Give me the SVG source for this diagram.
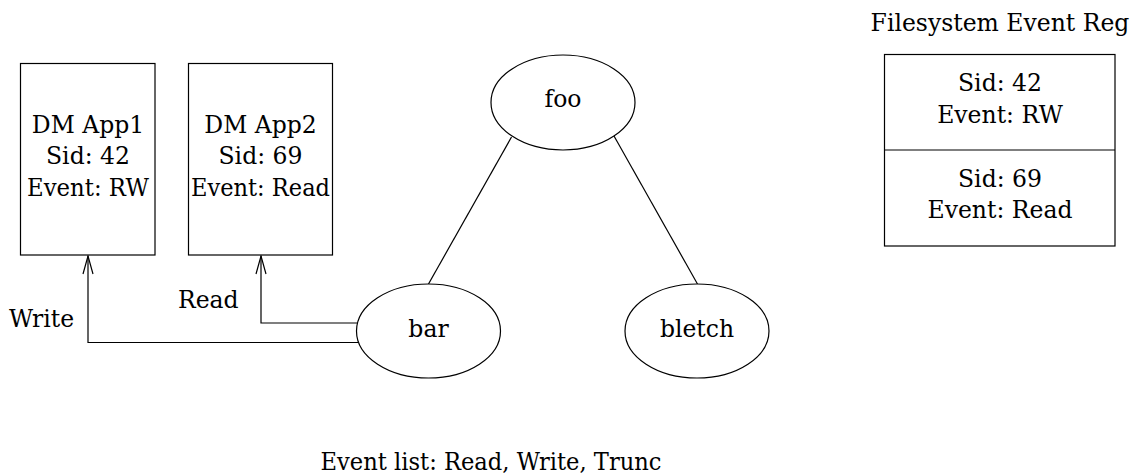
<svg xmlns="http://www.w3.org/2000/svg" width="1136" height="476" viewBox="0 0 1136 476">
<defs>
<style>
text{font-family:"DejaVu Serif","Liberation Serif",serif;font-size:23.5px;fill:#000;text-anchor:middle}
.n{fill:#fff;stroke:#000;stroke-width:1.2}
.c{fill:none;stroke:#000;stroke-width:1.2}
.l{text-anchor:start}
</style>
<marker id="arr" viewBox="0 0 20 12" markerWidth="20" markerHeight="12" refX="19" refY="6" orient="auto" markerUnits="userSpaceOnUse">
<path d="M1,1 L19,6 L1,11" fill="none" stroke="#000" stroke-width="1.2"/>
</marker>
</defs>
<rect width="1136" height="476" fill="#fff"/>
<g id="connectors">
<path class="c" d="M358,342.5 H88 V256" marker-end="url(#arr)"/>
<path class="c" d="M357,323 H261 V256" marker-end="url(#arr)"/>
<line class="c" x1="511.5" y1="137" x2="428.5" y2="284"/>
<line class="c" x1="614" y1="136" x2="697.5" y2="284"/>
</g>
<g id="app1">
<rect class="n" x="20.5" y="63.5" width="134.5" height="191.5"/>
<text x="88" y="133">DM App1</text>
<text x="88" y="164">Sid: 42</text>
<text x="88" y="196" textLength="122" lengthAdjust="spacingAndGlyphs">Event: RW</text>
</g>
<g id="app2">
<rect class="n" x="188.5" y="63.5" width="144" height="191.5"/>
<text x="260.5" y="133">DM App2</text>
<text x="260.5" y="164">Sid: 69</text>
<text x="260.5" y="196" textLength="139" lengthAdjust="spacingAndGlyphs">Event: Read</text>
</g>
<g id="foo">
<ellipse class="n" cx="563" cy="102.5" rx="72" ry="47.5"/>
<text x="563" y="107">foo</text>
</g>
<g id="bar">
<ellipse class="n" cx="428.5" cy="331" rx="72" ry="47"/>
<text x="428.5" y="337">bar</text>
</g>
<g id="bletch">
<ellipse class="n" cx="697" cy="331" rx="72" ry="47"/>
<text x="697" y="337">bletch</text>
</g>
<g id="labels">
<text class="l" x="9" y="327">Write</text>
<text class="l" x="178" y="308">Read</text>
</g>
<g id="registry">
<text x="1000" y="31">Filesystem Event Reg</text>
<rect class="n" x="884.5" y="54.5" width="230.5" height="191.5"/>
<line class="c" x1="884.5" y1="150" x2="1115" y2="150"/>
<text x="1000" y="91">Sid: 42</text>
<text x="1000" y="123">Event: RW</text>
<text x="1000" y="187">Sid: 69</text>
<text x="1000" y="218">Event: Read</text>
</g>
<g id="eventlist">
<text x="491" y="470" textLength="341" lengthAdjust="spacingAndGlyphs">Event list: Read, Write, Trunc</text>
</g>
</svg>
